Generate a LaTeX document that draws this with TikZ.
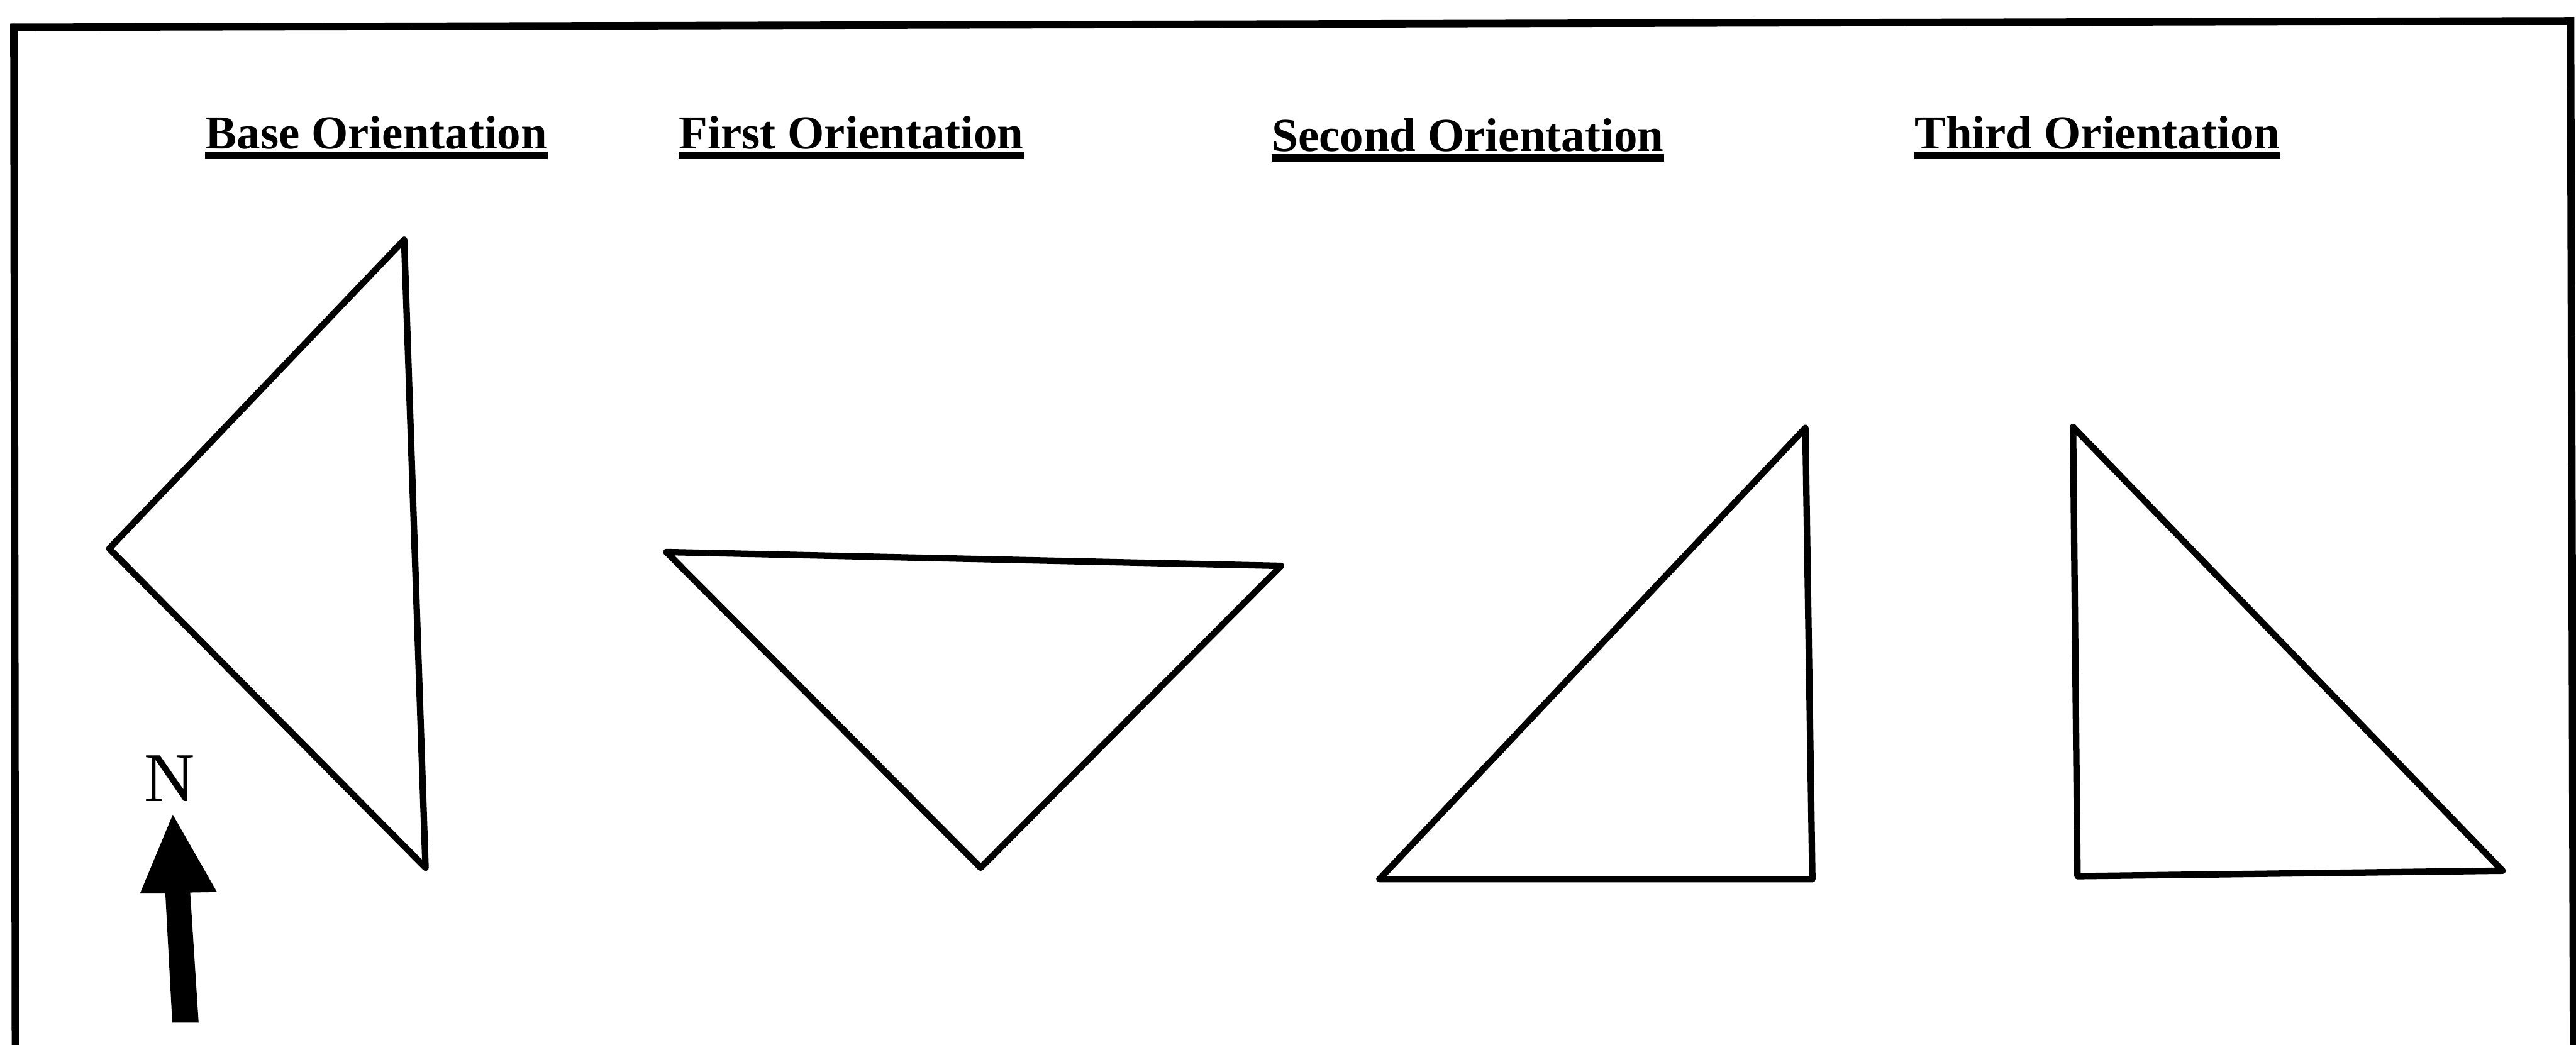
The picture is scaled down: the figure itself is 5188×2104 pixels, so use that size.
\documentclass[tikz,border=0pt]{standalone}
\usepackage{fontspec}
\setmainfont{Liberation Serif}
\usetikzlibrary{calc}
\begin{document}
\begin{tikzpicture}[x=0.01cm,y=-0.01cm,
  shapeline/.style={line width=0.13cm, line join=round},
  title/.style={font=\fontsize{27}{32}\selectfont\bfseries, inner sep=0pt, anchor=base west},
  uline/.style={line width=0.15cm},
  frameline/.style={line width=0.15cm}]
\useasboundingbox (0,0) rectangle (5188,2104);
% frame (bottom edge is cut off)
\begin{scope}
\clip (0,0) rectangle (5188,2104);
\draw[frameline] (31,2120) -- (28,55) -- (5177,42) -- (5183,2120);
\end{scope}
% titles
\node[title] (tb) at (413,300) {Base Orientation};
\node[title] (tf) at (1367,300) {First Orientation};
\node[title] (ts) at (2561,305) {Second Orientation};
\node[title] (tt) at (3855,300) {Third Orientation};
\foreach \t in {tb,tf,ts,tt}
  \draw[uline] ($(\t.base west)+(0,13)$) -- ($(\t.base east)+(0,13)$);
% triangles
\draw[shapeline] (814,483) -- (220,1105) -- (857,1748) -- cycle;
\draw[shapeline] (1342,1112) -- (2580,1140) -- (1975,1748) -- cycle;
\draw[shapeline] (3636,862) -- (2778,1771) -- (3650,1771) -- cycle;
\draw[shapeline] (4175,860) -- (4184,1765) -- (5040,1754) -- cycle;
% north arrow
\node[font=\fontsize{40}{48}\selectfont, inner sep=0pt, anchor=base] (north) at (341,1614) {N};
\fill (348,1641) -- (437,1797) -- (383,1798) -- (400,2060) -- (347,2060) -- (333,1800) -- (282,1800) -- cycle;
\end{tikzpicture}
\end{document}
